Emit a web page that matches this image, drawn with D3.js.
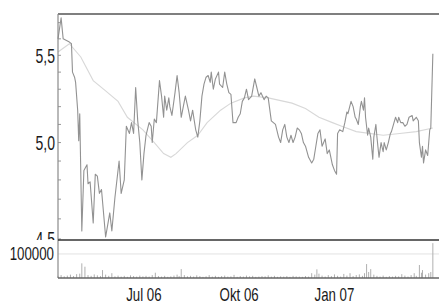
<!DOCTYPE html>
<html>
<head>
<meta charset="utf-8">
<script src="https://cdn.jsdelivr.net/npm/d3@7"></script>
<style>
  body { margin: 0; background: #fff; }
  text { font-family: "Liberation Sans", Arial, sans-serif; fill: #1a1a1a; }
</style>
</head>
<body>
<script>
// price, calendar days since 2006-04-10
var priceDays = [0,3,5,11,13,14,16,17,19,20,21,23,25,28,29,31,34,36,38,40,42,46,50,52,55,59,61,64,66,69,71,73,75,77,79,81,83,85,88,90,91,93,95,98,100,102,103,105,107,108,110,113,115,117,119,121,123,126,128,130,133,135,137,139,141,143,145,147,148,150,152,155,156,159,161,163,165,167,169,172,174,176,178,180,182,184,187,190,192,194,196,199,201,203,206,208,210,213,215,217,219,221,223,225,227,229,231,233,235,237,239,242,245,247,249,251,253,255,258,260,262,265,267,269,270,272,275,277,279,280,283,285,287,288,290,292,293,295,296,297,299,300,302,304,305,307,308,310,312,314,315,317,319,321,322,324,326,328,329,331,333,335,337,339,342,343,346,348,349,351,352,353,355,357,359,360,362];
var prices = [5.60,5.73,5.60,5.58,5.57,5.40,5.37,5.34,5.18,5.01,5.16,4.54,4.85,4.88,4.78,4.79,4.58,4.83,4.82,4.73,4.75,4.51,4.63,4.54,4.71,4.90,4.73,4.80,5.09,5.05,5.11,5.05,5.31,5.12,5.00,4.80,4.94,5.04,5.11,5.09,5.00,5.13,5.11,5.35,5.26,5.14,5.26,5.18,5.25,5.20,5.15,5.28,5.38,5.28,5.14,5.20,5.26,5.18,5.12,5.18,5.07,5.03,5.12,5.26,5.33,5.37,5.38,5.34,5.40,5.30,5.36,5.40,5.33,5.31,5.40,5.33,5.28,5.27,5.11,5.11,5.14,5.16,5.23,5.25,5.30,5.24,5.26,5.36,5.31,5.26,5.28,5.24,5.26,5.25,5.12,5.11,5.10,5.03,5.00,5.07,5.10,5.03,5.00,5.04,5.00,5.03,5.08,5.07,5.05,5.00,4.98,4.92,4.89,4.91,4.98,5.05,5.07,4.98,5.02,4.94,4.96,4.88,4.85,4.83,5.05,5.07,5.06,5.11,5.17,5.16,5.23,5.20,5.14,5.13,5.10,5.20,5.23,5.18,5.25,5.14,5.04,5.08,5.03,4.91,5.03,5.10,5.03,4.92,5.00,4.95,5.00,4.96,5.00,5.05,5.06,5.10,5.14,5.11,5.14,5.11,5.11,5.09,5.10,5.14,5.15,5.12,5.14,5.12,5.00,4.92,4.98,4.89,4.96,4.93,5.07,5.08,5.51];

// moving average
var maDays = [0,11,22,34,46,58,67,82,93,102,109,114,125,135,144,157,167,180,189,203,226,239,252,265,274,288,314,330,346,362];
var maValues = [5.52,5.57,5.49,5.35,5.29,5.23,5.14,5.07,5.00,4.94,4.92,4.94,5.00,5.04,5.11,5.18,5.22,5.25,5.26,5.25,5.22,5.19,5.14,5.11,5.09,5.06,5.04,5.05,5.06,5.08];

// volume
var volDays = [0,3,6,9,12,15,18,21,23,26,29,32,35,38,41,43,46,49,52,55,58,61,64,67,70,73,76,79,82,85,88,91,94,97,100,103,106,109,112,115,117,119,122,125,128,131,134,137,140,143,146,149,152,155,158,161,164,167,170,173,176,179,182,185,188,191,194,197,200,203,206,209,212,215,218,221,224,227,230,233,236,239,242,245,248,250,252,255,258,261,264,267,270,273,276,279,282,285,288,291,294,296,298,300,302,305,308,311,314,317,320,323,326,329,332,335,338,341,344,346,349,351,352,355,358,360,362];
var volumes = [9000,12000,7000,10000,14000,8000,16000,18000,61000,47000,12000,9000,15000,11000,8000,33000,14000,9000,20000,7000,10000,6000,9000,5000,11000,8000,6000,10000,7000,9000,6000,12000,22000,8000,6000,9000,5000,7000,10000,14000,8000,37000,12000,7000,9000,6000,11000,8000,5000,7000,12000,6000,9000,5000,8000,10000,6000,7000,13000,5000,8000,6000,10000,7000,9000,5000,6000,8000,7000,11000,6000,9000,5000,7000,6000,8000,5000,9000,7000,6000,5000,8000,6000,20000,14000,36000,18000,10000,6000,12000,8000,15000,9000,6000,17000,10000,20000,8000,12000,15000,9000,20000,58000,25000,37000,14000,9000,6000,10000,5000,8000,6000,9000,7000,16000,10000,6000,12000,20000,9000,54000,22000,33000,14000,20000,25000,145000];

var yTicks = [4.5, 5.0, 5.5];
var yMinor = [4.6,4.7,4.8,4.9,5.1,5.2,5.3,5.4,5.6,5.7];
var volTicks = [100000];
var xTickDates = ["2006-07-01","2006-10-01","2007-01-01"];
var xTickLabels = ["Jul 06","Okt 06","Jan 07"];

var W = 439, H = 304;
var pLeft = 58, pRight = 439, pTop = 14, pMid = 240, pBottom = 278;
var start = new Date(2006, 3, 10);
function dayToDate(d) { return d3.timeDay.offset(start, d); }

var svg = d3.select('body').append('svg').attr('width', W).attr('height', H);

var x = d3.scaleTime()
  .domain([start, new Date(2007, 3, 11)])
  .range([pLeft, 437]);
var y = d3.scaleLog().domain([4.495, 5.754]).range([pMid, pTop]);
var yv = d3.scaleLinear().domain([0, 158000]).range([pBottom, pMid]);

function narrowText(g, tx, ty, str, size, sx) {
  g.append('text')
    .attr('transform', 'translate(' + tx + ',' + ty + ') scale(' + sx + ',1)')
    .attr('text-anchor', 'end')
    .attr('font-size', size + 'px')
    .attr('dy', '0.36em')
    .text(str);
}

// y labels (4,5 gets covered by the volume panel)
var fmt = function(v) { return d3.format('.1f')(v).replace('.', ','); };
var lab = svg.append('g');
yTicks.forEach(function(v) { narrowText(lab, 55, y(v), fmt(v), 20, 0.7); });

// price panel
var pts = priceDays.map(function(d, i) { return [dayToDate(d), prices[i]]; });
var ma = maDays.map(function(d, i) { return [dayToDate(d), maValues[i]]; });
var line = d3.line().x(function(d) { return x(d[0]); }).y(function(d) { return y(d[1]); });

svg.append('path').datum(ma).attr('d', line)
  .attr('fill', 'none').attr('stroke', '#d8d8d8').attr('stroke-width', 1.1);
svg.append('path').datum(pts).attr('d', line)
  .attr('fill', 'none').attr('stroke', '#929292').attr('stroke-width', 1.1)
  .attr('stroke-linejoin', 'round');

// minor ticks on the price axis
svg.selectAll('line.minor').data(yMinor.concat(yTicks)).enter().append('line')
  .attr('x1', pLeft).attr('x2', pLeft + 3)
  .attr('y1', function(d) { return y(d); }).attr('y2', function(d) { return y(d); })
  .attr('stroke', '#999').attr('stroke-width', 1);

// volume panel
svg.append('rect').attr('x', 0).attr('y', pMid).attr('width', W).attr('height', pBottom - pMid)
  .attr('fill', '#fff');
svg.selectAll('line.grid').data(volTicks).enter().append('line')
  .attr('x1', pLeft).attr('x2', pRight)
  .attr('y1', function(d) { return yv(d); }).attr('y2', function(d) { return yv(d); })
  .attr('stroke', '#e2e2e2').attr('stroke-width', 1);
volTicks.forEach(function(v) { narrowText(svg, 54, yv(v), String(v), 17.5, 0.76); });

svg.selectAll('line.vol').data(volDays).enter().append('line')
  .attr('x1', function(d) { return x(dayToDate(d)); })
  .attr('x2', function(d) { return x(dayToDate(d)); })
  .attr('y1', yv(0))
  .attr('y2', function(d, i) { return yv(volumes[i]); })
  .attr('stroke', '#b0b0b0').attr('stroke-width', 1);

// frame
svg.append('line').attr('x1', pLeft).attr('x2', pRight).attr('y1', pTop).attr('y2', pTop)
  .attr('stroke', '#555').attr('stroke-width', 1.5);
svg.append('line').attr('x1', pLeft).attr('x2', pLeft).attr('y1', pTop).attr('y2', pBottom)
  .attr('stroke', '#8a8a8a').attr('stroke-width', 1.2);
svg.append('line').attr('x1', pLeft).attr('x2', pRight).attr('y1', pMid).attr('y2', pMid)
  .attr('stroke', '#333').attr('stroke-width', 1.5);
svg.append('line').attr('x1', pLeft).attr('x2', pRight).attr('y1', pBottom).attr('y2', pBottom)
  .attr('stroke', '#666').attr('stroke-width', 1.5);

// x labels
xTickDates.forEach(function(s, i) {
  var px = x(d3.timeParse('%Y-%m-%d')(s));
  svg.append('text')
    .attr('transform', 'translate(' + (px + 1) + ',294) scale(0.7,1)')
    .attr('text-anchor', 'middle')
    .attr('font-size', '19px')
    .attr('dy', '0.36em')
    .text(xTickLabels[i]);
});
</script>
</body>
</html>
